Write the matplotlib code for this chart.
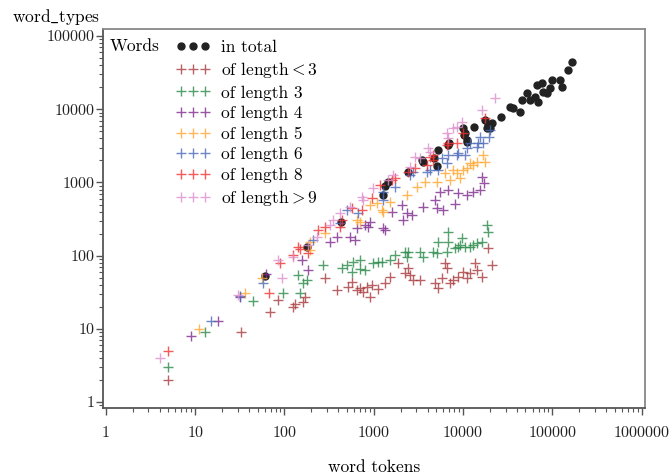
import numpy as np
import matplotlib.pyplot as plt

plt.rcParams['font.family'] = ['cmr10', 'DejaVu Serif']
plt.rcParams['mathtext.fontset'] = 'cm'
plt.rcParams['axes.formatter.use_mathtext'] = True

# word tokens / word types
total_x = [60, 178, 428, 1265, 1331, 1438, 2410, 3459, 3550, 4710, 5090, 5220, 6760, 6930,
           9950, 10200, 10470, 11000, 11030, 13200, 17500, 18500, 18950, 19950, 21000, 26500,
           33400, 36100, 43200, 45500, 51800, 56000, 63700, 68800, 67000, 76200, 78300, 86700,
           93700, 98700, 121000, 128000, 149000, 165000]
total_y = [53, 131, 288, 673, 893, 1012, 1387, 2024, 1900, 2155, 1675, 2770, 3240, 3450,
           5530, 4440, 4730, 3600, 3790, 5710, 7120, 5530, 6080, 5530, 6480, 7820,
           10700, 10380, 9150, 13400, 16630, 13400, 14700, 12530, 21400, 22800, 17200, 16630,
           19500, 25000, 25000, 20100, 34300, 44200]

lt3_x = [5, 33, 69, 84, 124, 131, 161, 169, 283, 386, 512, 569, 647, 699, 755, 837, 904, 953,
         1112, 1331, 1514, 1862, 2230, 2410, 2535, 2740, 3280, 4830, 5220, 5790, 6250, 6590,
         7110, 7690, 8750, 9950, 11030, 11900, 13550, 14300, 16250, 18950, 21000]
lt3_y = [2, 9, 17, 25, 20, 22, 23, 27, 49, 34, 37, 44, 34, 36, 32, 37, 27, 40,
         35, 42, 51, 79, 58, 68, 54, 46, 46, 42, 36, 49, 79, 68,
         42, 46, 51, 60, 49, 58, 79, 64, 51, 127, 74]

l3_x = [5, 13, 44, 96, 141, 149, 161, 178, 269, 440, 500, 569, 584, 699, 699, 795, 977, 1112,
        1233, 1514, 1723, 2230, 2410, 2348, 3280, 3548, 4590, 5090, 5220, 6590, 6760, 6760,
        8090, 8750, 9200, 9700, 10470, 11900, 12880, 14300, 16250, 18500, 18950]
l3_y = [3, 9, 24, 31, 54, 31, 42, 46, 74, 68, 74, 60, 82, 87, 66, 64, 79, 82,
        82, 87, 102, 112, 112, 96, 112, 96, 112, 109, 153, 112, 153, 210,
        127, 131, 140, 174, 131, 131, 140, 149, 153, 262, 210]

l4_x = [9, 18, 32, 63, 157, 183, 322, 386, 540, 614, 647, 795, 859, 904, 1265, 1331, 1595,
        2065, 2118, 2348, 2672, 3548, 4830, 5090, 5940, 5500, 6760, 8090, 8750, 11030, 12880,
        15400, 16250, 17100]
l4_y = [8, 13, 27, 56, 87, 64, 153, 180, 180, 163, 238, 262, 246, 288, 238, 224, 394,
        491, 306, 382, 359, 461, 575, 447, 420, 739, 787, 507, 716, 673, 739,
        787, 1186, 981]

l5_x = [11, 36, 56, 192, 192, 283, 647, 699, 904, 1083, 1233, 1265, 1514, 2348, 3040, 3735,
        5090, 6250, 7110, 7690, 8530, 9200, 10000, 11030, 11900, 12880, 14300, 16700, 17500]
l5_y = [10, 31, 49, 153, 119, 204, 306, 288, 491, 523, 420, 394, 540, 673, 865, 1012,
        1012, 1343, 1078, 1476, 1343, 1148, 1480, 1573, 1840, 1730, 1900, 2366, 1900]

l6_x = [15, 32, 57, 208, 417, 500, 664, 1265, 1265, 1723, 2535, 2740, 3935, 4250, 5200, 5790,
        6590, 6760, 8530, 8750, 10500, 11030, 11900, 14300, 14650, 15400, 16700, 19450, 19950]
l6_y = [13, 28, 42, 163, 279, 420, 382, 575, 739, 865, 1262, 1387, 1387, 1476, 1500, 2155,
        1840, 2366, 2366, 2522, 2400, 2950, 3450, 3050, 3450, 4170, 3450, 4170, 5200]

l8_x = [5, 67, 89, 124, 141, 150, 183, 237, 283, 417, 440, 569, 736, 953, 1170, 1595, 1723,
        2410, 2885, 3935, 4250, 4590, 4590, 6590, 6760, 8530, 9950, 17500]
l8_y = [5, 31, 79, 102, 131, 125, 109, 224, 246, 246, 306, 447, 420, 612, 921, 1078, 1148,
        1387, 1573, 1730, 2223, 2366, 2024, 3240, 3450, 3450, 4730, 7580]

gt9_x = [4, 30, 93, 84, 124, 183, 231, 322, 348, 417, 540, 736, 755, 977, 1438, 1637, 2535,
         2885, 3280, 4035, 4250, 6590, 6760, 7690, 8530, 9700, 16250, 22700]
gt9_y = [4, 29, 49, 87, 96, 140, 180, 262, 306, 382, 461, 631, 575, 838, 1078, 1262, 1623,
         2223, 2155, 2950, 2600, 4730, 4045, 5530, 5710, 6680, 9750, 14200]

series = [
    (lt3_x, lt3_y, '#a83a3e', r'of length$<$3'),
    (l3_x, l3_y, '#2a8a4a', 'of length 3'),
    (l4_x, l4_y, '#7d2a8c', 'of length 4'),
    (l5_x, l5_y, '#ffa630', 'of length 5'),
    (l6_x, l6_y, '#4a68b8', 'of length 6'),
    (l8_x, l8_y, '#f03232', 'of length 8'),
    (gt9_x, gt9_y, '#dd8fcc', r'of length$>$9'),
]

fig = plt.figure(figsize=(6.7, 4.75), dpi=100)
ax = fig.add_axes([0.1537, 0.1411, 0.809, 0.7978])

ax.plot(total_x, total_y, 'o', color='#222222', markersize=5, label='in total', zorder=2)
for xs, ys, col, lab in series:
    ax.plot(xs, ys, '+', color=col, markersize=7, markeredgewidth=1.0, alpha=0.8,
            label=lab, zorder=3)

ax.set_xscale('log')
ax.set_yscale('log')
ax.set_xlim(0.93, 1.09e6)
ax.set_ylim(0.83, 1.25e5)

xt = [1, 10, 100, 1000, 10000, 100000, 1000000]
yt = [1, 10, 100, 1000, 10000, 100000]
ax.set_xticks(xt)
ax.set_xticklabels([str(v) for v in xt])
ax.set_yticks(yt)
ax.set_yticklabels([str(v) for v in yt])
ax.tick_params(axis='both', which='major', length=5, width=1, colors='#555555',
               labelcolor='#222222', labelsize=11.5)
ax.tick_params(axis='both', which='minor', length=3, width=0.8, colors='#555555')
ax.tick_params(axis='x', which='major', pad=8)
ax.tick_params(axis='y', which='major', pad=1)

for side in ['left', 'bottom']:
    ax.spines[side].set_color('#555555')
    ax.spines[side].set_linewidth(1.3)
for side in ['top', 'right']:
    ax.spines[side].set_color('#888888')
    ax.spines[side].set_linewidth(1.3)

ax.set_xlabel('word tokens', fontsize=12.5, labelpad=14)
fig.text(0.018, 0.965, r'word$\_$types', fontsize=12.5, ha='left', va='center')

ax.legend(loc='upper left', bbox_to_anchor=(0.115, 1.0), frameon=False, numpoints=3,
          fontsize=12.5, handlelength=2.0, handletextpad=0.6, labelspacing=0.3,
          borderaxespad=0.2)
ax.text(0.013, 0.955, 'Words', transform=ax.transAxes, fontsize=12.5, ha='left', va='center')

fig.savefig('out.png', dpi=100)
